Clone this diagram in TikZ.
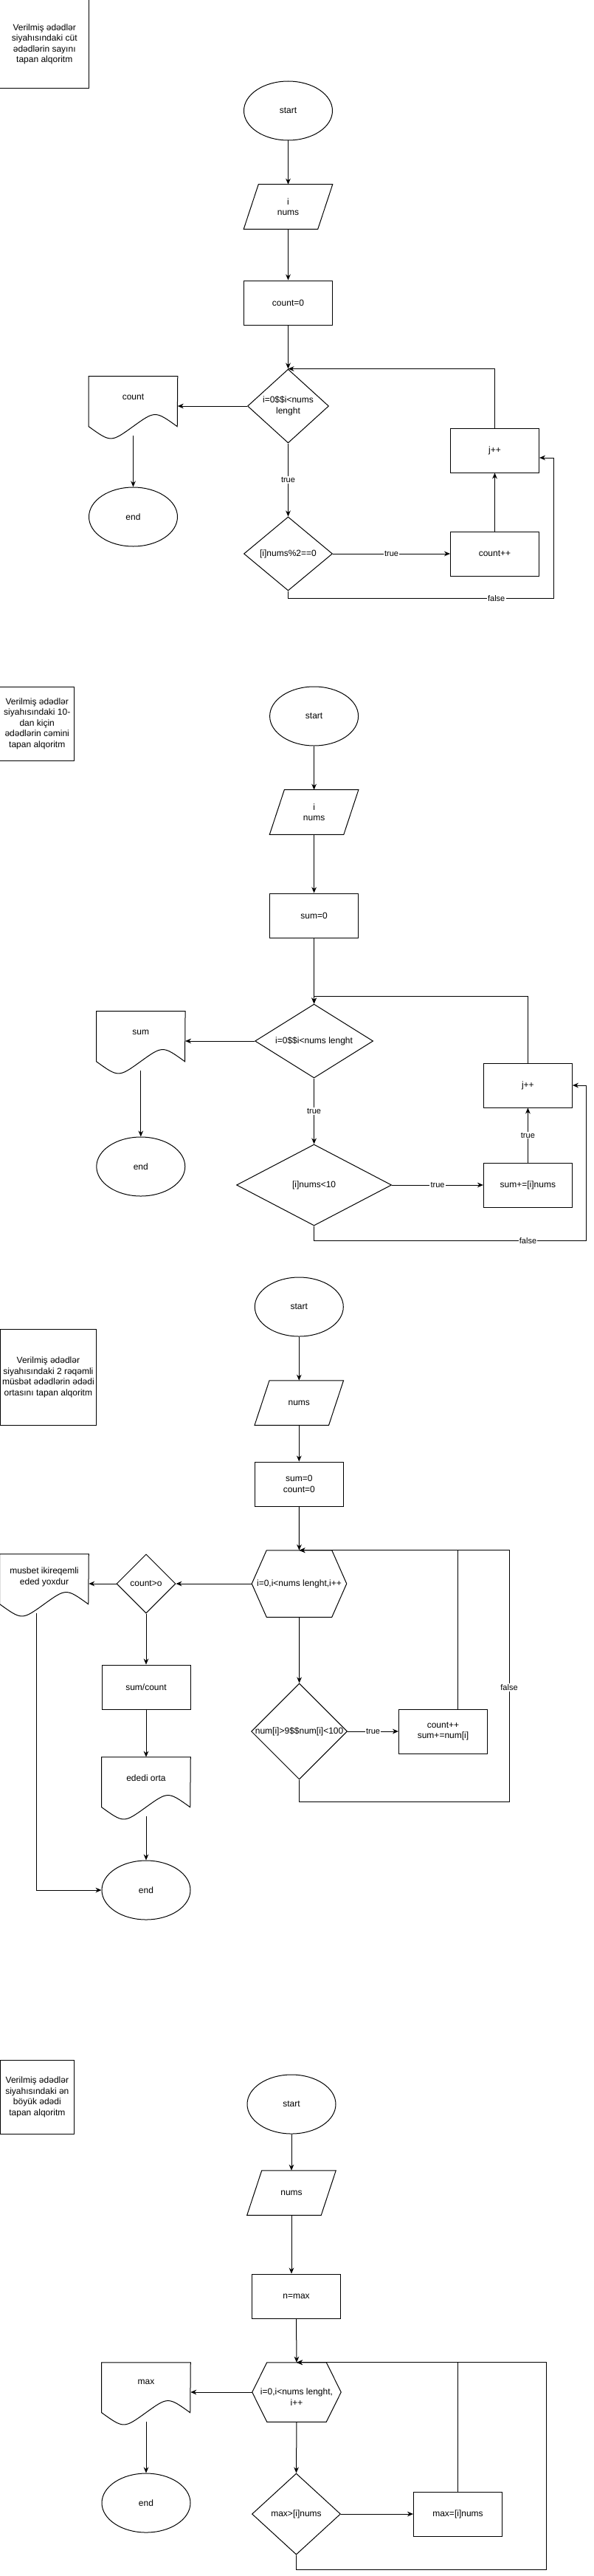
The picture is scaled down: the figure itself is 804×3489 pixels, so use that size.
\documentclass[tikz,border=0pt]{standalone}
\usepackage{fontspec}
\setmainfont{Liberation Sans}
\usetikzlibrary{shapes.geometric,arrows.meta,calc}
\newcommand{\docshape}[1]{%
  \draw[ln] (#1.north west) -- (#1.north east) -- ($(#1.north west)+(120,68)$)
    .. controls ($(#1.north west)+(90,46.4)$) .. ($(#1.north west)+(60,68)$)
    .. controls ($(#1.north west)+(30,89.6)$) .. ($(#1.north west)+(0,68)$) -- cycle;}
\newcommand{\parashape}[1]{%
  \draw[ln] ($(#1.north west)+(20,0)$) -- (#1.north east) -- ($(#1.south east)+(-20,0)$) -- (#1.south west) -- cycle;}
\newcommand{\hexshape}[1]{%
  \draw[ln] ($(#1.north west)+(20,0)$) -- ($(#1.north east)+(-20,0)$) -- (#1.east) -- ($(#1.south east)+(-20,0)$) -- ($(#1.south west)+(20,0)$) -- (#1.west) -- cycle;}
\begin{document}
\begin{tikzpicture}[x=0.75pt,y=-0.75pt,
 every node/.style={font=\fontsize{9}{10.9}\selectfont},
 ln/.style={line width=0.75pt},
 arr/.style={line width=0.75pt,-{Stealth[length=6pt,width=5pt]}},
 rbox/.style={draw,line width=0.75pt,rectangle,inner sep=0pt,minimum width=90pt,minimum height=45pt,align=center},
 note/.style={draw,line width=0.75pt,rectangle,inner sep=0pt,align=center},
 term/.style={draw,line width=0.75pt,ellipse,inner sep=0pt,minimum width=90pt,minimum height=60pt},
 dec/.style={draw,line width=0.75pt,diamond,inner sep=0pt},
 hold/.style={rectangle,inner sep=0pt,minimum width=90pt,minimum height=45pt,align=center},
 docn/.style={rectangle,inner sep=0pt,minimum width=90pt,minimum height=60pt},
 lbl/.style={fill=white,inner sep=1pt,font=\fontsize{8.25}{10}\selectfont},
]
\fill[white] (0,0) rectangle (804,3489);
\useasboundingbox (0,0) rectangle (804,3489);

% ---------- Diagram 1 ----------
\node[note,minimum width=90.4pt,minimum height=90pt] (n1) at (60.25,60) {Verilmiş ədədlər\\siyahısındaki cüt\\ədədlərin sayını\\tapan alqoritm};
\node[term] (s1) at (390.5,150) {start};
\node[hold] (p1) at (390.5,280) {i\\nums}; \parashape{p1}
\node[rbox] (r1) at (390.5,410) {count=0};
\node[dec,minimum width=82.5pt,minimum height=75pt,label={[align=center]center:{i=0\$\$i<nums\\lenght}}] (d1) at (390.5,550) {};
\node[docn,label={[yshift=9pt]center:count}] (o1) at (180.5,550) {}; \docshape{o1}
\node[term] (e1) at (180.5,700) {end};
\node[dec,minimum width=90pt,minimum height=75pt,label={center:{[i]nums\%2==0}}] (d2) at (390.5,750) {};
\node[rbox] (c1) at (670.5,750) {count++};
\node[rbox] (j1) at (670.5,610) {j++};
\draw[arr] (s1.south) -- (p1.north);
\draw[arr] (p1.south) -- (r1.north);
\draw[arr] (r1.south) -- (d1.north);
\draw[arr] (d1.west) -- (o1.east);
\draw[arr] (o1.south) -- (e1.north);
\draw[arr] (d1.south) -- node[lbl]{true} (d2.north);
\draw[arr] (d2.east) -- node[lbl]{true} (c1.west);
\draw[arr] (c1.north) -- (j1.south);
\draw[arr] (j1.north) |- (d1.north);
\draw[arr] (d2.south) -- ++(0,10) -- node[lbl,pos=0.785]{false} ++(359.5,0) |- ($(j1.east)+(0,10)$);

% ---------- Diagram 2 ----------
\node[note,minimum width=75.4pt,minimum height=75pt] (n2) at (50.25,980) {Verilmiş ədədlər\\siyahısındaki 10-\\dan kiçin\\ədədlərin cəmini\\tapan alqoritm};
\node[term] (s2) at (425.6,970) {start};
\node[hold] (p2) at (425.6,1100) {i\\nums}; \parashape{p2}
\node[rbox] (r2) at (425.6,1240) {sum=0};
\node[dec,minimum width=120pt,minimum height=75pt,label={center:{i=0\$\$i<nums lenght}}] (d21) at (425.6,1410) {};
\node[docn,label={[yshift=9pt]center:sum}] (o2) at (190.8,1410) {}; \docshape{o2}
\node[term] (e2) at (190.8,1580) {end};
\node[dec,minimum width=157.5pt,minimum height=82.5pt,label={center:{[i]nums<10}}] (d22) at (425.6,1605) {};
\node[rbox] (r22) at (715.4,1605) {sum+=[i]nums};
\node[rbox] (j2) at (715.4,1470) {j++};
\draw[arr] (s2.south) -- (p2.north);
\draw[arr] (p2.south) -- (r2.north);
\draw[arr] (r2.south) -- (d21.north);
\draw[arr] (d21.west) -- (o2.east);
\draw[arr] (o2.south) -- (e2.north);
\draw[arr] (d21.south) -- node[lbl]{true} (d22.north);
\draw[arr] (d22.east) -- node[lbl]{true} (r22.west);
\draw[arr] (r22.north) -- node[lbl]{true} (j2.south);
\draw[arr] (j2.north) |- ($(d21.north)+(0,-10)$) -- (d21.north);
\draw[arr] (d22.south) -- ++(0,20) -- node[lbl,pos=0.785]{false} ++(369.3,0) |- (j2.east);

% ---------- Diagram 3 ----------
\node[note,minimum width=98.1pt,minimum height=97.9pt] (n3) at (65.4,1865.5) {Verilmiş ədədlər\\siyahısındaki 2 rəqəmli\\müsbət ədədlərin ədədi\\ortasını tapan alqoritm};
\node[term] (s3) at (405.3,1770) {start};
\node[hold] (p3) at (405.3,1900) {nums}; \parashape{p3}
\node[rbox] (r3) at (405.3,2010) {sum=0\\count=0};
\node[hold,minimum width=96pt,minimum height=67.5pt] (h3) at (405.5,2145) {i=0,i<nums lenght,i++}; \hexshape{h3}
\node[dec,minimum width=60pt,minimum height=60pt,label={center:{count>o}}] (d31) at (198,2145) {};
\node[docn,label={[align=center,yshift=7pt]center:{musbet ikireqemli\\eded yoxdur}}] (o3) at (60,2145) {}; \docshape{o3}
\node[rbox] (r31) at (198,2285) {sum/count};
\node[docn,label={[yshift=9pt]center:{ededi orta}}] (o32) at (198,2420) {}; \docshape{o32}
\node[term] (e3) at (198,2560) {end};
\node[dec,minimum width=97.5pt,minimum height=97.5pt,label={center:{num[i]>9\$\$num[i]<100}}] (d32) at (405.6,2345) {};
\node[rbox] (r32) at (600.5,2345) {count++\\sum+=num[i]};
\draw[arr] (s3.south) -- (p3.north);
\draw[arr] (p3.south) -- (r3.north);
\draw[arr] (r3.south) -- (h3.north);
\draw[arr] (h3.west) -- (d31.east);
\draw[arr] (d31.west) -- (o3.east);
\draw[arr] (d31.south) -- (r31.north);
\draw[arr] (r31.south) -- (o32.north);
\draw[arr] (o32.south) -- (e3.north);
\draw[arr] ($(o3.south west)+(50,0)$) |- (e3.west);
\draw[arr] (h3.south) -- (d32.north);
\draw[arr] (d32.east) -- node[lbl]{true} (r32.west);
\draw[arr] ($(r32.north)+(20,0)$) |- (h3.north);
\draw[arr] (d32.south) -- ++(0,30) -| node[lbl,pos=0.728]{false} ($(h3.north)+(284.5,0)$) -- (h3.north);

% ---------- Diagram 4 ----------
\node[note,minimum width=75.5pt,minimum height=74.5pt] (n4) at (50.35,2840.3) {Verilmiş ədədlər\\siyahısındaki ən\\böyük ədədi\\tapan alqoritm};
\node[term] (s4) at (395,2850) {start};
\node[hold] (p4) at (395,2970) {nums}; \parashape{p4}
\node[rbox] (r4) at (401.5,3110) {n=max};
\node[hold,minimum width=90pt,minimum height=60pt,label={[align=center,yshift=-5pt]center:{i=0,i<nums lenght,\\i++}}] (h4) at (402,3240) {}; \hexshape{h4}
\node[docn,label={[yshift=10pt]center:max}] (o4) at (198,3240) {}; \docshape{o4}
\node[term] (e4) at (198,3390) {end};
\node[dec,minimum width=90pt,minimum height=82.5pt,label={center:{max>[i]nums}}] (d4) at (401.5,3405) {};
\node[rbox] (r42) at (620.5,3405) {max=[i]nums};
\draw[arr] (s4.south) -- (p4.north);
\draw[arr] (p4.south) -- (p4.south |- r4.north);
\draw[arr] (r4.south) -- (h4.north);
\draw[arr] (h4.west) -- (o4.east);
\draw[arr] (o4.south) -- (e4.north);
\draw[arr] (h4.south) -- (d4.north);
\draw[arr] (d4.east) -- (r42.west);
\draw[arr] (r42.north) |- (h4.north);
\draw[arr] (d4.south) -- ++(0,20) -| ($(h4.north)+(338.7,0)$) -- (h4.north);
\end{tikzpicture}
\end{document}
